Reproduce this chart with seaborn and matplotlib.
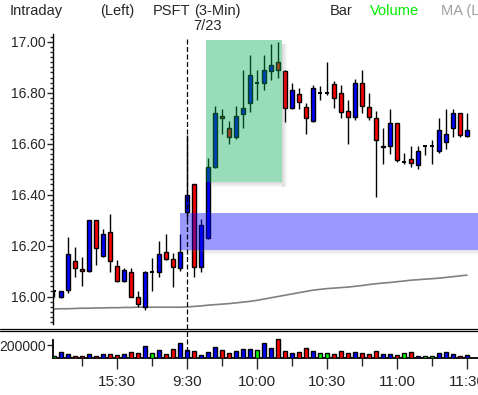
import matplotlib
matplotlib.use("Agg")
import matplotlib.pyplot as plt
from matplotlib.patches import Rectangle
from matplotlib.lines import Line2D
from matplotlib.ticker import MultipleLocator, FixedLocator, FormatStrFormatter
import numpy as np
import pandas as pd
import seaborn as sns

# PSFT 3-minute bars, previous afternoon then the 7/23 session
opens = [16.02, 16.00, 16.025, 16.14, 16.107, 16.10, 16.30, 16.16, 16.255, 16.12,
         16.06, 16.096, 15.997, 15.957, 16.096, 16.097, 16.175, 16.147, 16.11, 16.33,
         16.44, 16.115, 16.23, 16.51, 16.71, 16.66, 16.625, 16.715, 16.76, 16.84,
         16.84, 16.885, 16.92, 16.885, 16.74, 16.795, 16.745, 16.69, 16.80, 16.80,
         16.835, 16.80, 16.73, 16.705, 16.84, 16.745, 16.70, 16.587, 16.59, 16.68,
         16.53, 16.54, 16.515, 16.59, 16.59, 16.57, 16.605, 16.66, 16.72, 16.63]
highs = [16.025, 16.02, 16.235, 16.195, 16.155, 16.30, 16.30, 16.265, 16.325, 16.145,
         16.11, 16.11, 16.02, 16.10, 16.15, 16.218, 16.246, 16.17, 16.245, 16.635,
         16.44, 16.305, 16.545, 16.75, 16.735, 16.69, 16.75, 16.89, 16.95, 16.89,
         16.95, 16.99, 17.00, 16.89, 16.84, 16.82, 16.76, 16.83, 16.825, 16.92,
         16.845, 16.83, 16.77, 16.855, 16.89, 16.80, 16.73, 16.66, 16.735, 16.68,
         16.565, 16.59, 16.59, 16.59, 16.615, 16.70, 16.735, 16.735, 16.72, 16.72]
lows = [16.00, 15.995, 16.015, 16.075, 16.04, 16.095, 16.125, 16.155, 16.095, 16.055,
        16.055, 15.998, 15.96, 15.946, 16.023, 16.077, 16.143, 16.036, 16.10, 16.30,
        16.075, 16.095, 16.225, 16.505, 16.64, 16.60, 16.62, 16.66, 16.725, 16.77,
        16.81, 16.85, 16.86, 16.685, 16.735, 16.735, 16.64, 16.685, 16.77, 16.79,
        16.74, 16.70, 16.60, 16.695, 16.72, 16.695, 16.39, 16.52, 16.56, 16.53,
        16.52, 16.51, 16.50, 16.555, 16.52, 16.565, 16.58, 16.625, 16.625, 16.625]
closes = [16.02, 16.02, 16.165, 16.11, 16.10, 16.30, 16.19, 16.245, 16.14, 16.06,
          16.105, 16.00, 15.97, 16.096, 16.096, 16.166, 16.148, 16.116, 16.175, 16.398,
          16.117, 16.28, 16.51, 16.72, 16.70, 16.625, 16.71, 16.74, 16.87, 16.84,
          16.89, 16.91, 16.89, 16.74, 16.81, 16.765, 16.70, 16.82, 16.80, 16.80,
          16.78, 16.725, 16.705, 16.84, 16.75, 16.705, 16.615, 16.593, 16.68, 16.535,
          16.53, 16.525, 16.57, 16.59, 16.59, 16.655, 16.64, 16.72, 16.635, 16.655]
volumes = [30, 97, 62, 36, 36, 62, 36, 62, 62, 46,
           62, 97, 82, 190, 82, 123, 62, 138, 241, 123,
           108, 46, 97, 174, 123, 82, 108, 138, 138, 123,
           241, 159, 303, 113, 82, 97, 154, 113, 77, 77,
           62, 113, 82, 97, 82, 62, 113, 62, 62, 46,
           82, 97, 36, 36, 36, 82, 97, 62, 36, 51]  # thousands of shares
ma_values = [15.951, 15.952, 15.952, 15.953, 15.954, 15.954, 15.955, 15.955, 15.956, 15.956,
             15.957, 15.957, 15.958, 15.958, 15.958, 15.958, 15.958, 15.958, 15.958, 15.959,
             15.961, 15.963, 15.966, 15.968, 15.970, 15.972, 15.975, 15.978, 15.981, 15.985,
             15.990, 15.995, 16.000, 16.005, 16.010, 16.015, 16.020, 16.025, 16.028, 16.031,
             16.033, 16.035, 16.037, 16.040, 16.043, 16.047, 16.050, 16.053, 16.055, 16.058,
             16.061, 16.064, 16.066, 16.068, 16.070, 16.072, 16.075, 16.078, 16.081, 16.084]
time_ticks = [9, 19, 29, 39, 49, 59]
time_labels = ["15:30", "9:30", "10:00", "10:30", "11:00", "11:30"]
minor_time_ticks = [4, 14, 24, 34, 44, 54]
session_open = 19
blue_zone = [18, 16.183, 16.329]            # start bar, low, high
green_zone = [21.67, 32.53, 16.451, 17.008]  # start bar, end bar, low, high

sns.set_style("white")
plt.rcParams["font.family"] = ["Liberation Sans", "DejaVu Sans"]
plt.rcParams["font.size"] = 10

W, H = 478, 395
fig = plt.figure(figsize=(W / 100, H / 100), dpi=100)

xlo, xhi = -0.143, 60.571
bars = np.arange(len(opens))
opens, highs, lows, closes = map(np.array, (opens, highs, lows, closes))
diff = closes - opens
colors = np.where(diff > 0, "#0000ff", np.where(diff < 0, "#ff0000", "#00ff00"))

# ---- price panel
ax = fig.add_axes([53 / W, 1 - 324 / H, 425 / W, 290 / H])
ax.set_xlim(xlo, xhi)
ax.set_ylim(15.892, 17.031)
for s in ["top", "right", "bottom"]:
    ax.spines[s].set_visible(False)
ax.spines["left"].set_linewidth(1.0)
ax.spines["left"].set_color("black")
ax.yaxis.set_major_locator(MultipleLocator(0.2))
ax.yaxis.set_minor_locator(MultipleLocator(0.02))
ax.yaxis.set_major_formatter(FormatStrFormatter("%.2f"))
ax.tick_params(axis="y", which="major", left=True, length=4, width=1, pad=1, labelsize=10)
ax.tick_params(axis="y", which="minor", left=True, length=2.2, width=1)
ax.set_xticks([])

sns.lineplot(x=bars, y=ma_values, ax=ax, color="#808080", linewidth=1.2, zorder=1)

px = (xhi - xlo) / 425.0       # one pixel in bar units
py = (17.031 - 15.892) / 290.0  # one pixel in price units
bw = 0.62
ax.vlines(bars, lows, highs, color="black", linewidth=1.0, zorder=2)
body = diff != 0
ax.bar(bars[body], diff[body], bottom=opens[body], width=bw, color=colors[body],
       edgecolor="black", linewidth=1.0, zorder=3)
ax.hlines(opens[~body], bars[~body] - bw / 2, bars[~body] + bw / 2, color="black",
          linewidth=1.4, zorder=3)

# highlighted zones with soft shadows
x0, zlo, zhi = blue_zone
for i in range(1, 6):
    ax.add_patch(Rectangle((x0, zlo - i * py), xhi - x0 + 1, py, color="#707070",
                           alpha=0.22 * (1 - i / 6), linewidth=0, zorder=4))
ax.add_patch(Rectangle((x0, zlo), xhi - x0 + 1, zhi - zlo, facecolor="#0000ff",
                       alpha=0.4, linewidth=0, zorder=5))

g0, g1, glo, ghi = green_zone
for i in range(1, 6):
    a = 0.3 * (1 - i / 6)
    ax.add_patch(Rectangle((g1 + (i - 1) * px, glo - 5 * py), px, ghi - glo + 1 * py,
                           color="#707070", alpha=a, linewidth=0, zorder=4))
    ax.add_patch(Rectangle((g0 + 4 * px, glo - i * py), g1 - g0 - 4 * px, py,
                           color="#707070", alpha=a, linewidth=0, zorder=4))
ax.add_patch(Rectangle((g0, glo), g1 - g0, ghi - glo, facecolor="#00a850",
                       alpha=0.4, linewidth=0, zorder=5, clip_on=False))

# ---- volume panel
vax = fig.add_axes([53 / W, 1 - 358.3 / H, 425 / W, 24.3 / H])
vdf = pd.DataFrame({"bar": bars, "volume": np.array(volumes) * 1000, "color": colors})
sns.barplot(data=vdf, x="bar", y="volume", hue="color",
            palette={c: c for c in set(colors)}, native_scale=True, dodge=False,
            width=bw, saturation=1, edgecolor="black", linewidth=1.0, legend=False,
            ax=vax, zorder=3)
vax.set_xlim(xlo, xhi)
vax.set_ylim(0, 373800)
vax.set_xlabel("")
vax.set_ylabel("")
for s in ["top", "right"]:
    vax.spines[s].set_visible(False)
vax.spines["left"].set_bounds(0, 280000)
for s in ["left", "bottom"]:
    vax.spines[s].set_linewidth(1.3)
    vax.spines[s].set_color("black")
vax.set_yticks([200000])
vax.set_yticklabels(["200000"])
vax.tick_params(axis="y", left=True, length=4, width=1, pad=1, labelsize=10)
vax.xaxis.set_major_locator(FixedLocator(time_ticks))
vax.xaxis.set_minor_locator(FixedLocator(minor_time_ticks))
vax.set_xticklabels(time_labels)
vax.tick_params(axis="x", which="major", bottom=True, direction="out", length=8,
                width=1, pad=4, labelsize=11)
vax.tick_params(axis="x", which="minor", bottom=True, direction="out", length=5.8, width=1)

# separator between panels and the session-open line
for yy in (329.3, 331.3):
    fig.add_artist(Line2D([0, 1], [1 - yy / H, 1 - yy / H], color="black", linewidth=0.9))
xs = (53 + (session_open - xlo) / (xhi - xlo) * 425) / W
fig.add_artist(Line2D([xs, xs], [1 - 39 / H, 1 - 352 / H], color="black",
                      linewidth=0.9, dashes=(4, 2)))

# header
hdr = dict(va="center", fontsize=10.5)
fig.text(10 / W, 1 - 11 / H, "Intraday", **hdr)
fig.text(100 / W, 1 - 11 / H, "(Left)", **hdr)
fig.text(153 / W, 1 - 11 / H, "PSFT", **hdr)
fig.text(194 / W, 1 - 11 / H, "(3-Min)", **hdr)
fig.text(207 / W, 1 - 26 / H, "7/23", ha="center", **hdr)
fig.text(330 / W, 1 - 11 / H, "Bar", **hdr)
fig.text(370 / W, 1 - 11 / H, "Volume", color="#00ee00", **hdr)
fig.text(441 / W, 1 - 11 / H, "MA (Left)", color="#a0a0a0", **hdr)

fig.savefig("out.png", dpi=100)
